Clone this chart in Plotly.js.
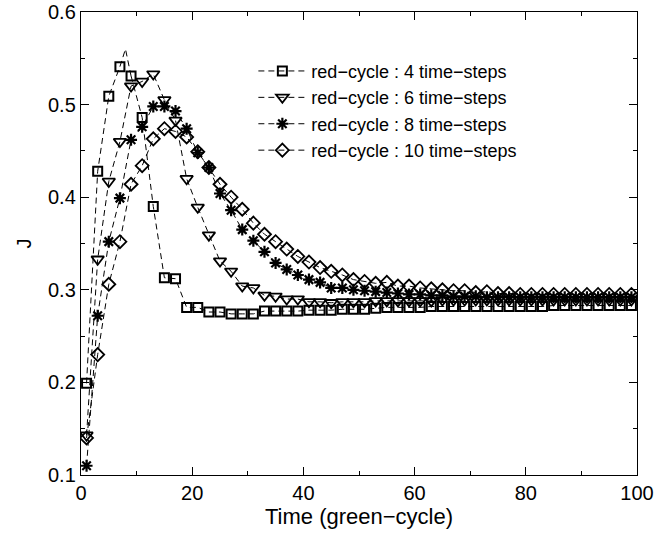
<!DOCTYPE html>
<html>
<head>
<meta charset="utf-8">
<script src="https://cdn.plot.ly/plotly-3.0.1.min.js"></script>
<style>html,body{margin:0;padding:0;background:#fff;}#chart{width:671px;height:533px;}</style>
</head>
<body>
<div id="chart"></div>
<script>
// Time (green-cycle) at which markers are drawn
const timeSteps = [1,3,5,7,9,11,13,15,17,19,21,23,25,27,29,31,33,35,37,39,41,43,45,47,49,
  51,53,55,57,59,61,63,65,67,69,71,73,75,77,79,81,83,85,87,89,91,93,95,97,99];

const seriesNames = [
  'red\u2212cycle : 4 time\u2212steps',
  'red\u2212cycle : 6 time\u2212steps',
  'red\u2212cycle : 8 time\u2212steps',
  'red\u2212cycle : 10 time\u2212steps'
];

const j4 = [0.199,0.428,0.509,0.541,0.531,0.486,0.390,0.313,0.312,0.281,0.281,0.276,0.276,0.274,0.274,
  0.274,0.277,0.277,0.277,0.277,0.278,0.278,0.278,0.279,0.279,0.279,0.280,0.281,0.281,0.281,
  0.281,0.282,0.282,0.282,0.282,0.282,0.282,0.282,0.282,0.282,0.282,0.282,0.283,0.283,0.283,
  0.283,0.283,0.283,0.283,0.283];
// extra unmarked line point of the 4-step curve (peak between markers)
const j4PeakX = [8];
const j4PeakY = [0.560];

const j6 = [0.143,0.333,0.417,0.460,0.520,0.525,0.533,0.505,0.483,0.420,0.389,0.359,0.331,0.320,0.304,
  0.302,0.294,0.293,0.290,0.290,0.287,0.287,0.286,0.287,0.287,0.287,0.288,0.288,0.288,0.288,
  0.288,0.288,0.289,0.289,0.289,0.289,0.289,0.289,0.289,0.289,0.289,0.289,0.289,0.289,0.289,
  0.289,0.289,0.289,0.289,0.289];

const j8 = [0.110,0.272,0.352,0.399,0.462,0.476,0.498,0.498,0.493,0.474,0.448,0.432,0.404,0.386,0.365,
  0.353,0.341,0.329,0.322,0.316,0.311,0.308,0.302,0.302,0.300,0.299,0.298,0.297,0.296,0.295,
  0.295,0.294,0.294,0.293,0.293,0.293,0.292,0.292,0.292,0.292,0.292,0.292,0.292,0.292,0.292,
  0.292,0.292,0.292,0.292,0.292];

const j10 = [0.140,0.230,0.306,0.352,0.414,0.434,0.463,0.474,0.471,0.465,0.449,0.432,0.414,0.400,0.387,
  0.372,0.360,0.352,0.344,0.336,0.330,0.324,0.320,0.316,0.311,0.309,0.307,0.308,0.304,0.304,
  0.302,0.301,0.300,0.299,0.299,0.297,0.298,0.296,0.296,0.295,0.295,0.295,0.295,0.295,0.295,
  0.295,0.295,0.295,0.295,0.295];

const xTicks = [0,20,40,60,80,100];
const yTicks = [0.1,0.2,0.3,0.4,0.5,0.6];

// Break the marked series where an extra line point sits, and build the detour segment.
function splitExtras(xs, ys, ex, ey) {
  const mx = xs.slice(), my = ys.slice();
  const segs = [];
  ex.forEach((x, k) => {
    let i = xs.findIndex(v => v > x);
    segs.push({x:[xs[i-1], x, xs[i]], y:[ys[i-1], ey[k], ys[i]]});
    const pos = mx.findIndex(v => v > x);
    mx.splice(pos, 0, x); my.splice(pos, 0, null);
  });
  return {x:mx, y:my, segs:segs};
}

const lineStyle = {color:'#000', width:1, dash:'6px,4px'};
const s4 = splitExtras(timeSteps, j4, j4PeakX, j4PeakY);

const traces = [
  {x:s4.x, y:s4.y, name:seriesNames[0], mode:'lines+markers', line:lineStyle, connectgaps:false,
   marker:{symbol:'square-open', size:9, color:'#000', line:{width:2, color:'#000'}}},
  {x:timeSteps, y:j6, name:seriesNames[1], mode:'lines+markers', line:lineStyle,
   marker:{symbol:'triangle-down-open', size:11, color:'#000', line:{width:1.8, color:'#000'}}},
  {x:timeSteps, y:j8, name:seriesNames[2], mode:'lines+markers', line:lineStyle,
   marker:{symbol:'asterisk-open', size:10, color:'#000', line:{width:2.2, color:'#000'}}},
  {x:timeSteps, y:j10, name:seriesNames[3], mode:'lines+markers', line:lineStyle,
   marker:{symbol:'diamond-open', size:10, color:'#000', line:{width:1.8, color:'#000'}}}
];
s4.segs.forEach(sg => traces.push({x:sg.x, y:sg.y, mode:'lines', line:lineStyle,
  showlegend:false, hoverinfo:'skip'}));

const fontFam = '"Liberation Sans", Arial, Helvetica, sans-serif';
const layout = {
  width:671, height:533,
  margin:{l:81, r:34, t:12, b:58},
  paper_bgcolor:'#fff', plot_bgcolor:'#fff',
  font:{family:fontFam, color:'#000', size:20},
  showlegend:true,
  legend:{x:0.31, y:0.912, xanchor:'left', yanchor:'top', bgcolor:'rgba(0,0,0,0)',
          font:{size:18, family:fontFam}, itemwidth:48, tracegroupgap:0},
  xaxis:{range:[0,100], tickvals:xTicks, ticktext:xTicks.map(String),
         ticks:'inside', ticklen:8, tickwidth:1, tickcolor:'#000',
         minor:{dtick:10, tick0:0, ticks:'inside', ticklen:4, tickcolor:'#000'},
         showline:true, linecolor:'#000', linewidth:1.2, mirror:'ticks',
         showgrid:false, zeroline:false, tickfont:{size:20},
         title:{text:'Time (green\u2212cycle)', font:{size:22}, standoff:4}},
  yaxis:{range:[0.1,0.6], tickvals:yTicks, ticktext:yTicks.map(v=>v.toFixed(1)),
         ticks:'inside', ticklen:8, tickwidth:1, tickcolor:'#000',
         minor:{dtick:0.05, tick0:0.1, ticks:'inside', ticklen:4, tickcolor:'#000'},
         showline:true, linecolor:'#000', linewidth:1.2, mirror:'ticks',
         showgrid:false, zeroline:false, tickfont:{size:20},
         title:{text:'J', font:{size:20}}}
};

Plotly.newPlot('chart', traces, layout, {displayModeBar:false, staticPlot:true});
</script>
</body>
</html>
